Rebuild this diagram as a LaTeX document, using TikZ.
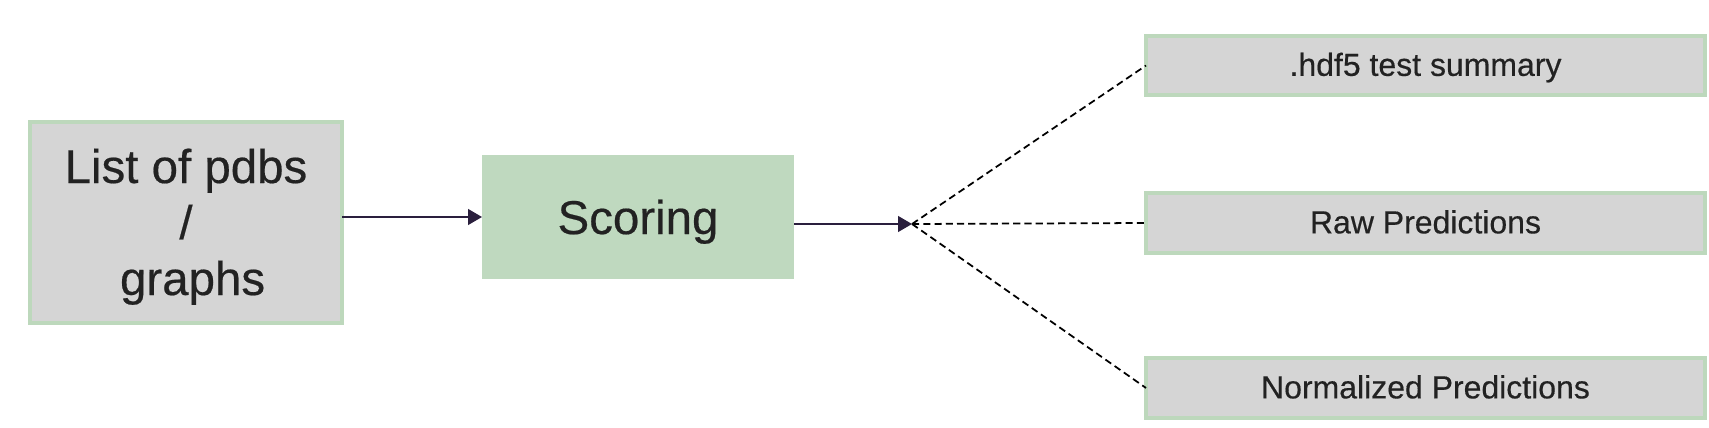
\documentclass[tikz,border=0pt]{standalone}
\usepackage{fontspec}
\setmainfont{Liberation Sans}[FakeBold=0.4]
\usetikzlibrary{arrows.meta}
\definecolor{boxgray}{HTML}{D5D5D5}
\definecolor{boxgreen}{HTML}{BFD9BF}
\definecolor{edgegreen}{HTML}{BDD8BC}
\definecolor{arrowc}{HTML}{2A1F3D}
\definecolor{textc}{HTML}{222222}
\newcommand{\threelines}[3]{\raisebox{0pt}[0pt][0.79cm]{\vtop{\baselineskip=0.56cm\lineskiplimit=-20pt\lineskip=0pt\halign{\hfil##\hfil\cr #1\cr #2\cr #3\cr}}}}
\tikzset{
  graybox/.style={draw=edgegreen, line width=0.9pt, fill=boxgray, inner sep=0pt, outer sep=0pt, text=textc},
  greenbox/.style={draw=none, fill=boxgreen, inner sep=0pt, outer sep=0pt, text=textc},
  bigtext/.style={font=\fontsize{13.5}{16}\selectfont},
  smalltext/.style={font=\fontsize{9.1}{11}\selectfont, text height=5.9pt, text depth=0pt},
  flow/.style={draw=arrowc, line width=0.35pt, -{Triangle[length=0.14cm,width=0.16cm]}},
  fanline/.style={draw=black, line width=0.5pt, dash pattern=on 2pt off 1.2pt}
}
\begin{document}
\begin{tikzpicture}
\useasboundingbox (0,0) rectangle (17.09,4.27);
\node[graybox, bigtext, minimum width=3.12cm, minimum height=2.01cm] (list) at (1.86,2.045) {\threelines{List of pdbs}{/}{\ graphs}};
\node[greenbox, bigtext, text height=9.7pt, text depth=0pt, minimum width=3.12cm, minimum height=1.24cm] (score) at (6.38,2.10) {Scoring};
\node[graybox, smalltext, minimum width=5.59cm, minimum height=0.59cm] (hdf) at (14.255,3.615) {.hdf5 test summary};
\node[graybox, smalltext, minimum width=5.59cm, minimum height=0.60cm] (raw) at (14.255,2.04) {Raw Predictions};
\node[graybox, smalltext, minimum width=5.59cm, minimum height=0.60cm] (norm) at (14.255,0.39) {Normalized Predictions};
\coordinate (fan) at (9.12,2.03);
\draw[flow] (score.west -| list.east) -- (score.west);
\draw[flow] (score.east |- fan) -- (fan);
\draw[fanline] (fan) -- (hdf.west);
\draw[fanline] (fan) -- (raw.west);
\draw[fanline] (fan) -- (norm.west);
\end{tikzpicture}
\end{document}
